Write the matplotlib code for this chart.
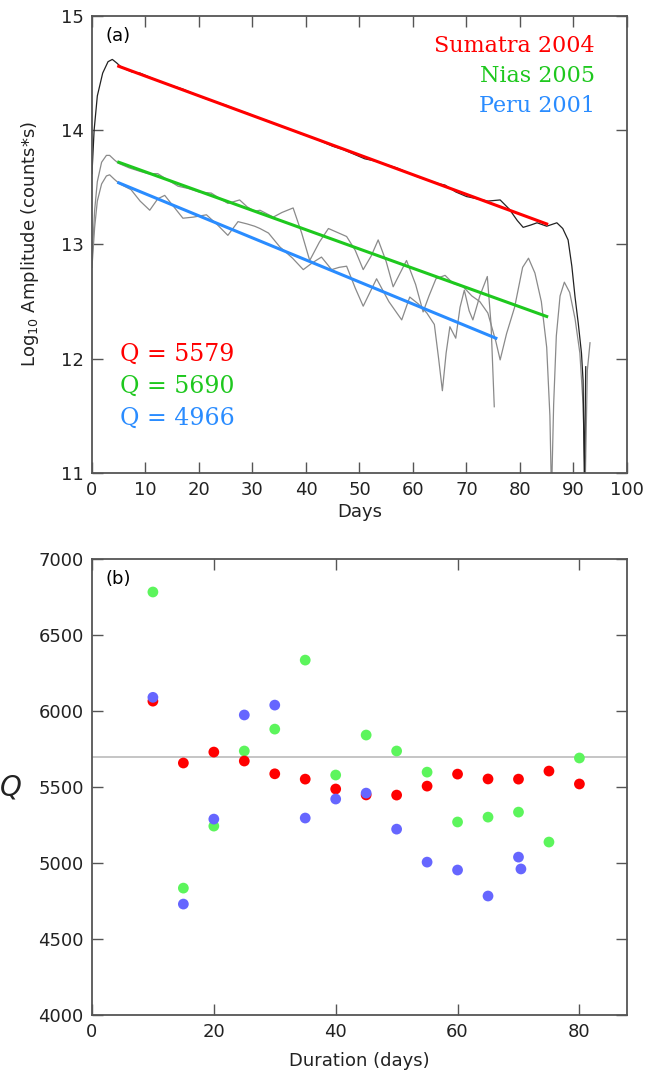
import matplotlib
matplotlib.use("Agg")
import matplotlib.pyplot as plt

# ---- panel (a): log amplitude vs days ----
sumatra_days = [0, 0.4, 1, 2, 3, 3.8, 4.6, 5.3, 6.5, 7.5, 9, 11, 13, 15, 17, 19, 21, 23, 25,
                27, 29, 31, 33, 35, 37, 39, 41, 43, 45, 47, 49, 51, 53, 55, 57, 59, 61, 63,
                65, 66, 68, 70, 72, 74, 76.3, 78, 79.5, 80.6, 82, 83.2, 85, 86.9, 88, 89,
                89.7, 90.3, 90.9, 91.5, 91.8, 92.05, 92.3]
sumatra_amp = [13.62, 14.0, 14.3, 14.5, 14.6, 14.62, 14.59, 14.56, 14.53, 14.51, 14.50, 14.46,
               14.42, 14.39, 14.36, 14.32, 14.28, 14.25, 14.22, 14.18, 14.15, 14.11, 14.08,
               14.04, 14.01, 13.97, 13.94, 13.90, 13.86, 13.83, 13.79, 13.75, 13.73, 13.70,
               13.67, 13.63, 13.59, 13.56, 13.53, 13.52, 13.46, 13.42, 13.40, 13.38, 13.39,
               13.31, 13.21, 13.15, 13.17, 13.19, 13.16, 13.19, 13.14, 13.04, 12.81, 12.54,
               12.31, 12.05, 11.81, 10.9, 11.93]

nias_days = [0, 0.5, 1, 1.8, 2.7, 3.3, 4.2, 5, 7, 9, 10.5, 12.3, 14, 16.1, 18, 20, 22.3, 24,
             25.4, 27.6, 29, 30.4, 31.4, 33.9, 35.5, 37.6, 39.2, 40.7, 42.5, 44.2, 47.6, 49.2,
             50.7, 52.2, 53.5, 55, 56.3, 57.6, 58.8, 60.5, 61.9, 63, 64.3, 66, 67.5, 69.4,
             71, 72.5, 74, 75.5, 76.3, 77.5, 79, 80.5, 81.6, 82.8, 84, 85, 85.6, 85.9,
             86.3, 86.8, 87.5, 88.3, 89.3, 90.3, 91.2, 91.8, 92.2, 92.6, 93.1]
nias_amp = [12.85, 13.3, 13.55, 13.72, 13.78, 13.78, 13.74, 13.71, 13.67, 13.64, 13.62, 13.62,
            13.57, 13.51, 13.49, 13.46, 13.45, 13.40, 13.36, 13.39, 13.33, 13.29, 13.30, 13.24,
            13.28, 13.32, 13.1, 12.86, 13.02, 13.14, 13.07, 12.95, 12.78, 12.9, 13.04, 12.85,
            12.63, 12.75, 12.86, 12.65, 12.41, 12.55, 12.70, 12.73, 12.66, 12.63, 12.55, 12.5,
            12.4, 12.15, 11.99, 12.22, 12.45, 12.8, 12.88, 12.75, 12.5, 12.1, 11.5, 10.8,
            11.6, 12.2, 12.55, 12.67, 12.58, 12.35, 12.05, 11.6, 10.9, 11.9, 12.14]

peru_days = [0, 0.5, 1, 1.8, 2.7, 3.3, 4.2, 5.2, 7.3, 9, 10.8, 12.3, 13.6, 15.3, 17, 19, 21.4,
             23.5, 25.4, 27.3, 29, 30.4, 31.4, 33, 35.1, 37.5, 39.5, 41.2, 42.9, 44.8, 46.2,
             47.6, 49.2, 50.7, 53.2, 55.5, 57.9, 59.4, 61, 62.6, 64, 64.8, 65.5, 66.2, 66.9,
             68, 68.8, 69.6, 70.5, 71.2, 72.5, 73.9, 74.6, 75.2]
peru_amp = [12.8, 13.15, 13.38, 13.53, 13.60, 13.61, 13.57, 13.53, 13.48, 13.38, 13.30, 13.40,
            13.43, 13.33, 13.23, 13.24, 13.26, 13.17, 13.08, 13.20, 13.18, 13.16, 13.14, 13.10,
            12.98, 12.88, 12.78, 12.84, 12.89, 12.78, 12.8, 12.81, 12.62, 12.46, 12.70, 12.50,
            12.34, 12.54, 12.48, 12.40, 12.3, 12.0, 11.72, 12.05, 12.28, 12.18, 12.45, 12.6,
            12.42, 12.34, 12.55, 12.72, 12.3, 11.58]

# straight-line fits (start/end)
fit_days = {"Sumatra": [5, 85], "Nias": [5, 85], "Peru": [5, 75.5]}
fit_amp = {"Sumatra": [14.56, 13.18], "Nias": [13.72, 12.37], "Peru": [13.54, 12.18]}

quake_names = ["Sumatra 2004", "Nias 2005", "Peru 2001"]
q_values = [5579, 5690, 4966]

# ---- panel (b): Q vs duration ----
dur_red = [10, 15, 20, 25, 30, 35, 40, 45, 50, 55, 60, 65, 70, 75, 80]
q_red = [6065, 5658, 5730, 5671, 5587, 5552, 5487, 5448, 5447, 5506, 5585, 5553, 5552, 5605, 5520]
dur_green = [10, 15, 20, 25, 30, 35, 40, 45, 50, 55, 60, 65, 70, 75, 80]
q_green = [6783, 4835, 5243, 5737, 5881, 6335, 5579, 5842, 5737, 5598, 5270, 5302, 5335, 5138, 5691]
dur_blue = [10, 15, 20, 25, 30, 35, 40, 45, 50, 55, 60, 65, 70, 70.4]
q_blue = [6090, 4730, 5289, 5974, 6039, 5296, 5421, 5460, 5223, 5006, 4954, 4783, 5039, 4961]
q_mean = 5700

c_red, c_green, c_blue = "#ff0000", "#1ec81e", "#2a8cff"
spine_col = "#555555"

plt.rcParams["font.family"] = ["DejaVu Sans"]
fig = plt.figure(figsize=(6.56, 10.74), dpi=100)
ax1 = fig.add_axes([0.1402, 0.5596, 0.8155, 0.4255])
ax2 = fig.add_axes([0.1402, 0.0549, 0.8155, 0.4246])

for ax in (ax1, ax2):
    for s in ax.spines.values():
        s.set_color(spine_col)
        s.set_linewidth(1.3)
    ax.tick_params(direction="in", length=8, width=1, color=spine_col,
                   top=True, right=True, labelsize=13, pad=6, labelcolor="#222222")

# panel (a)
ax1.plot(peru_days, peru_amp, color="#8a8a8a", lw=0.9)
ax1.plot(nias_days, nias_amp, color="#8a8a8a", lw=0.9)
ax1.plot(sumatra_days, sumatra_amp, color="#222222", lw=0.9)
ax1.plot(fit_days["Sumatra"], fit_amp["Sumatra"], color=c_red, lw=2.2)
ax1.plot(fit_days["Nias"], fit_amp["Nias"], color=c_green, lw=2.2)
ax1.plot(fit_days["Peru"], fit_amp["Peru"], color=c_blue, lw=2.2)
ax1.set_xlim(0, 100)
ax1.set_ylim(11, 15)
ax1.set_xticks(range(0, 101, 10))
ax1.set_yticks([11, 12, 13, 14, 15])
ax1.set_xlabel("Days", fontsize=13, color="#222222", labelpad=3)
ax1.set_ylabel("Log$_{10}$ Amplitude (counts*s)", fontsize=13, color="#222222", labelpad=14)
ax1.text(0.025, 0.975, "(a)", transform=ax1.transAxes, fontsize=13, va="top", ha="left")

for i, (name, col) in enumerate(zip(quake_names, [c_red, c_green, c_blue])):
    ax1.text(0.94, 0.935 - i * 0.066, name, transform=ax1.transAxes, color=col,
             fontsize=16, family="DejaVu Serif", ha="right", va="center")
    ax1.text(0.053, 0.26 - i * 0.07, "Q = %d" % q_values[i], transform=ax1.transAxes,
             color=col, fontsize=17, family="DejaVu Serif", ha="left", va="center")

# panel (b)
ax2.axhline(q_mean, color="#bbbbbb", lw=1.2, zorder=1)
ax2.scatter(dur_green, q_green, s=60, color="#5cf55c", edgecolors="none", zorder=2)
ax2.scatter(dur_red, q_red, s=60, color=c_red, edgecolors="none", zorder=3)
ax2.scatter(dur_blue, q_blue, s=60, color="#6666ff", edgecolors="none", zorder=4)
ax2.set_xlim(0, 87.8)
ax2.set_ylim(4000, 7000)
ax2.set_xticks([0, 20, 40, 60, 80])
ax2.set_yticks(range(4000, 7001, 500))
ax2.set_xlabel("Duration (days)", fontsize=13, color="#222222", labelpad=8)
ax2.set_ylabel("$Q$", fontsize=20, rotation=0, labelpad=20, va="center",
               family="DejaVu Serif", color="#222222")
ax2.text(0.025, 0.975, "(b)", transform=ax2.transAxes, fontsize=13, va="top", ha="left")

fig.savefig("out.png", dpi=100)
